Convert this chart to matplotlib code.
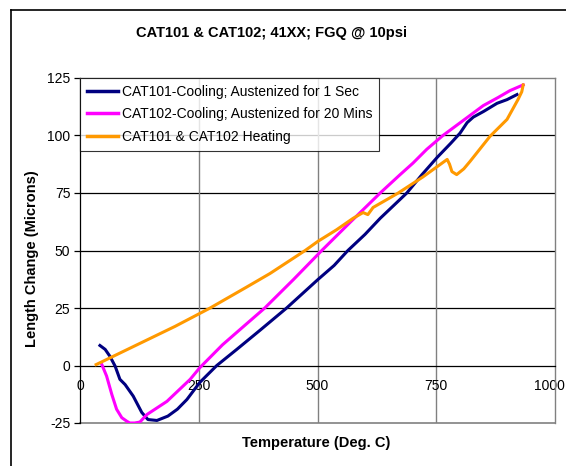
import matplotlib
matplotlib.use('Agg')
import matplotlib.pyplot as plt
import matplotlib.transforms as mtransforms
from matplotlib.lines import Line2D

plt.rcParams['font.family'] = ['Liberation Sans', 'DejaVu Sans']

title = "CAT101 & CAT102; 41XX; FGQ @ 10psi"
x_label = "Temperature (Deg. C)"
y_label = "Length Change (Microns)"
x_ticks = [0, 250, 500, 750, 1000]
x_tick_labels = ["0", "250", "500", "750", "1000"]
y_ticks = [-25, 0, 25, 50, 75, 100, 125]
y_tick_labels = ["-25", "0", "25", "50", "75", "100", "125"]

labels = ["CAT101-Cooling; Austenized for 1 Sec",
          "CAT102-Cooling; Austenized for 20 Mins",
          "CAT101 & CAT102 Heating"]

cat101_cool_x = [42, 53, 63, 74, 84, 95, 112, 130, 143, 162, 185, 205, 225, 252, 288, 330, 380,
                 435, 501, 535, 564, 600, 632, 660, 688, 720, 752, 780, 800, 815, 828, 850, 878, 899, 920]
cat101_cool_y = [8.7, 7.0, 4.0, -0.3, -6.0, -8.3, -13.3, -20.4, -23.5, -23.9, -22.0, -19.0, -14.8, -7.4, 0.0, 7.0, 15.5,
                 25.0, 37.4, 43.5, 50.0, 57.0, 64.0, 69.5, 75.0, 83.0, 90.5, 96.5, 101.0, 105.6, 108.0, 110.5, 114.0, 115.6, 117.8]

cat102_cool_x = [46, 56, 67, 77, 88, 99, 105, 115, 126, 141, 183, 232, 252, 300, 350, 389, 450, 509,
                 570, 632, 674, 701, 730, 764, 800, 849, 880, 905, 933]
cat102_cool_y = [0.4, -4.6, -12.6, -19.0, -22.7, -24.3, -25.0, -25.0, -24.6, -21.3, -15.6, -6.0, -1.0, 9.0, 18.0, 25.0, 37.5, 50.0,
                 62.5, 75.0, 83.0, 88.0, 94.0, 100.0, 105.5, 113.0, 116.5, 119.5, 122.0]

heating_x = [34, 100, 150, 200, 274, 350, 400, 474, 501, 540, 575, 596, 606, 617, 670, 722, 773, 778, 783,
             793, 808, 821, 863, 899, 922, 930, 933]
heating_y = [0.4, 7.0, 12.0, 17.0, 25.0, 34.0, 40.0, 50.0, 54.0, 59.0, 64.0, 66.5, 65.6, 68.7, 75.0, 82.0, 89.6, 87.5, 84.3,
             83.0, 85.5, 88.7, 99.6, 107.0, 115.6, 119.0, 122.0]

W, H = 566, 466
fig = plt.figure(figsize=(W / 100, H / 100), dpi=100)
ax = fig.add_axes([80 / W, 1 - 423 / H, 475 / W, 345 / H])

ax.plot(cat101_cool_x, cat101_cool_y, color='#000080', lw=2.2, label=labels[0], zorder=3)
ax.plot(cat102_cool_x, cat102_cool_y, color='#FF00FF', lw=2.2, label=labels[1], zorder=3)
ax.plot(heating_x, heating_y, color='#FF9900', lw=2.2, label=labels[2], zorder=3)

ax.set_xlim(0, 1000)
ax.set_ylim(-25, 125)
ax.set_xticks(x_ticks)
ax.set_xticklabels(x_tick_labels)
ax.set_yticks(y_ticks)
ax.set_yticklabels(y_tick_labels)

for y in [25, 50, 75, 100]:
    ax.axhline(y, color='black', lw=0.9, zorder=1)
for x in [250, 500, 750]:
    ax.axvline(x, color='#808080', lw=1.0, zorder=1)
ax.axhline(-25, color='#808080', lw=1.2, zorder=1, clip_on=False)

ax.spines['bottom'].set_position(('data', 0))
ax.spines['bottom'].set_color('black')
ax.spines['bottom'].set_linewidth(0.9)
ax.spines['left'].set_color('black')
ax.spines['left'].set_linewidth(0.9)
for s in ['top', 'right']:
    ax.spines[s].set_color('#808080')
    ax.spines[s].set_linewidth(1.0)

ax.tick_params(axis='x', length=0, pad=10, labelsize=10)
ax.tick_params(axis='y', length=4, width=0.9, direction='out', pad=3, labelsize=10)

# keep the last x tick label inside the picture
last = ax.get_xticklabels()[-1]
last.set_transform(last.get_transform() + mtransforms.ScaledTranslation(-4 / 72, 0, fig.dpi_scale_trans))

ax.set_title(title, x=(272 - 80) / 475, y=1 + 45 / 345, pad=0, va='center',
             fontsize=10.5, fontweight='bold')
ax.set_xlabel(x_label, fontsize=10.5, fontweight='bold')
ax.xaxis.set_label_coords((316 - 80) / 475, (423 - 443) / 345)
ax.xaxis.label.set_va('center')
ax.set_ylabel(y_label, fontsize=10.5, fontweight='bold')
ax.yaxis.set_label_coords((32 - 80) / 475, (423 - 259) / 345)
ax.yaxis.label.set_va('center')

leg = ax.legend(loc='upper left', bbox_to_anchor=(0, 1), borderaxespad=0, frameon=True,
                fancybox=False, edgecolor='black', fontsize=10, handlelength=2.2,
                handletextpad=0.3, labelspacing=0.6, borderpad=0.5)
leg.get_frame().set_linewidth(0.8)
for l in leg.get_lines():
    l.set_linewidth(2.5)
leg.set_zorder(5)

# chart-area border
fig.add_artist(Line2D([11 / W, 11 / W], [0, 1 - 10 / H], transform=fig.transFigure,
                      color='black', lw=1.2))
fig.add_artist(Line2D([11 / W, 1], [1 - 10 / H, 1 - 10 / H], transform=fig.transFigure,
                      color='black', lw=1.2))

fig.savefig('out.png', dpi=100)
